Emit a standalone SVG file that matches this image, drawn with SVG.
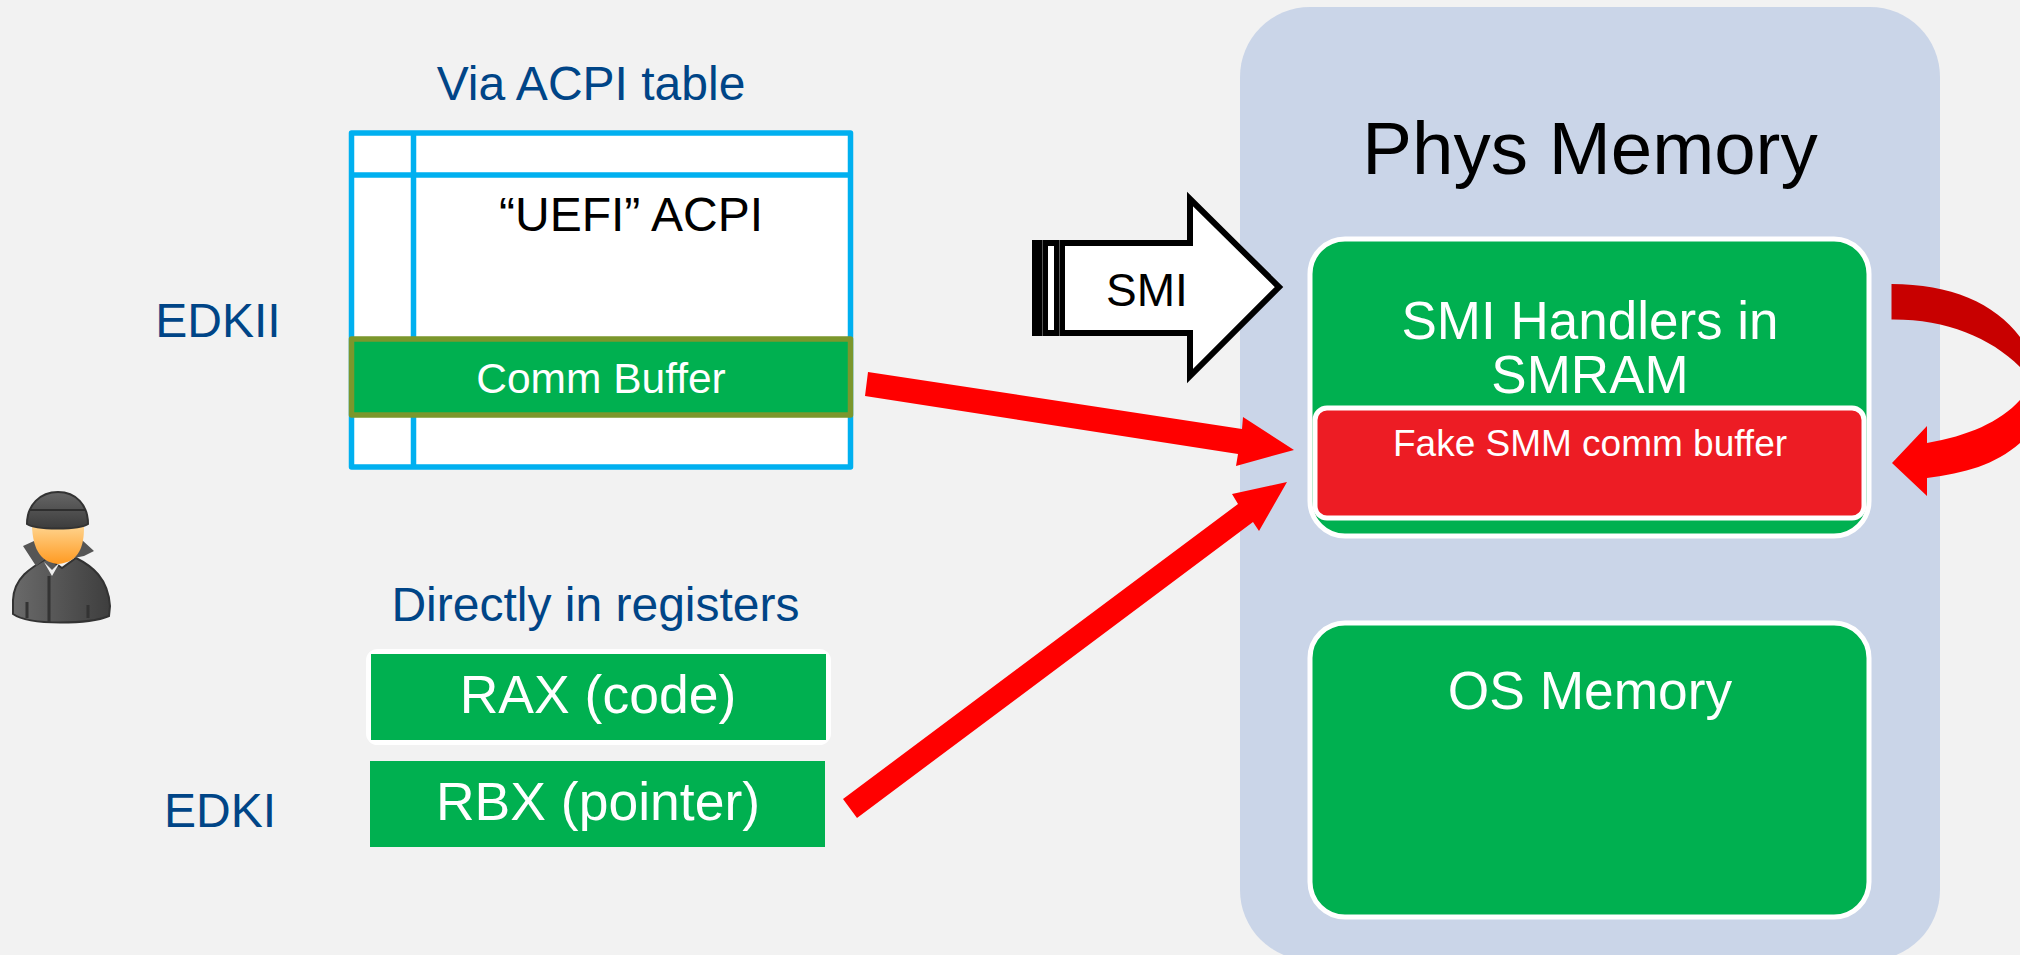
<svg xmlns="http://www.w3.org/2000/svg" width="2020" height="955" viewBox="0 0 2020 955">
<style>
text{font-family:"Liberation Sans",Arial,sans-serif;text-anchor:middle}
.b{fill:#004587}.w{fill:#fff}.k{fill:#000}
.g{fill:#00B050;stroke:#fff;stroke-width:5}
.r{fill:#f00}
</style>
<defs>
<linearGradient id="hat" x1="0" y1="0" x2="0" y2="1"><stop offset="0" stop-color="#666"/><stop offset="1" stop-color="#3c3c3c"/></linearGradient>
<linearGradient id="face" x1="0" y1="0" x2="0" y2="1"><stop offset="0" stop-color="#FFD28A"/><stop offset="1" stop-color="#FF9A22"/></linearGradient>
<linearGradient id="coat" x1="0" y1="0" x2="1" y2="0"><stop offset="0" stop-color="#6a6a6a"/><stop offset="1" stop-color="#3e3e3e"/></linearGradient>
</defs>
<rect width="2020" height="955" fill="#F2F2F2"/>
<rect x="1240" y="7" width="700" height="953" rx="70" fill="#CAD5E8"/>
<text class="k" x="1590" y="174" font-size="74.500">Phys Memory</text>
<g id="acpi-table">
<rect x="351.500" y="133" width="499" height="334" fill="#fff" stroke="#00B0F0" stroke-width="5.500" stroke-linejoin="round"/>
<path d="M413.500 133V467M351.500 175H850.500" fill="none" stroke="#00B0F0" stroke-width="5.500"/>
<text class="k" x="631" y="231" font-size="48">“UEFI” ACPI</text>
</g>
<g id="comm-buffer">
<rect x="351.500" y="339" width="499" height="76" fill="#00B050" stroke="#7B972C" stroke-width="5.500" stroke-linejoin="round"/>
<text class="w" x="601" y="393" font-size="42.500">Comm Buffer</text>
</g>
<text class="b" x="591" y="100" font-size="48">Via ACPI table</text>
<text class="b" x="218" y="337" font-size="48">EDKII</text>
<text class="b" x="220" y="827" font-size="48">EDKI</text>
<text class="b" x="595.500" y="621" font-size="48">Directly in registers</text>
<g id="rax">
<rect x="368.500" y="651.500" width="460" height="91" rx="9" fill="#00B050" stroke="#fff" stroke-width="5"/>
<rect x="371" y="654" width="455" height="86" fill="#00B050"/>
<text class="w" x="598" y="713" font-size="53.500">RAX (code)</text>
</g>
<g id="rbx">
<rect x="370" y="761" width="455" height="86" fill="#00B050"/>
<text class="w" x="598" y="820" font-size="53.500">RBX (pointer)</text>
</g>
<g id="smi-arrow">
<path d="M1035 243H1190V199L1279 287L1190 376V333H1035Z" fill="#fff" stroke="#000" stroke-width="6"/>
<path d="M1032 240H1048V336H1032ZM1054 240H1065V336H1054Z" fill="#000"/>
<rect x="1048" y="246" width="6" height="84" fill="#fff"/>
<path d="M1042.500 240V336M1059.500 240V336" stroke="#555" stroke-width="1"/>
<text class="k" x="1147" y="306" font-size="46">SMI</text>
</g>
<g id="smi-handlers">
<rect class="g" x="1310" y="239" width="559" height="297" rx="35"/>
<text class="w" x="1590" y="339" font-size="53">SMI Handlers in</text>
<text class="w" x="1590" y="393" font-size="53">SMRAM</text>
</g>
<g id="fake-buffer">
<rect x="1315" y="408" width="549" height="110" rx="12" fill="#ED1C24" stroke="#fff" stroke-width="5"/>
<text class="w" x="1590" y="456" font-size="37">Fake SMM comm buffer</text>
</g>
<g id="os-memory">
<rect class="g" x="1310" y="623" width="559" height="294" rx="35"/>
<text class="w" x="1590" y="709" font-size="53.300">OS Memory</text>
</g>
<g id="person">
<path d="M13 600C14 578 30 568 48 558L62 568L76 558C92 566 108 578 110 606L109 616C90 624 30 626 13 614Z" fill="url(#coat)" stroke="#333" stroke-width="2"/>
<path d="M23 546L34 541L46 558L36 566ZM94 551L82 540L74 558L84 556Z" fill="#555"/>
<path d="M44 562L52 570L60 562L52 576Z" fill="#eee"/>
<path d="M32 527H84C84 545 80 562 58 564C38 562 33 545 32 527Z" fill="url(#face)"/>
<path d="M27 524C27 505 40 492 58 492C76 492 88 505 88 524C80 530 35 530 27 524Z" fill="url(#hat)" stroke="#333" stroke-width="2"/>
<path d="M30 510H86" stroke="#2e2e2e" stroke-width="2"/>
<path d="M49 576V622M27 602V618M88 605V618" stroke="#333" stroke-width="3" fill="none"/>
</g>
<g id="connectors">
<path class="r" d="M868 372L1242 429L1243 417L1294 450L1236 466L1238 454L865 396Z"/>
<path class="r" d="M843 799L1238 504L1232 494L1287 482L1259 531L1253 522L857 818Z"/>
<path d="M1891.500 284C1950 284 1995 303 2020 337V367C1990 337 1945 319 1891.500 319.500Z" fill="#C80000"/>
<path class="r" d="M1892 463L1927 426V443C1968 436 2000 422 2020 400V443C1995 465 1965 473 1927 478V496Z"/>
</g>
</svg>
